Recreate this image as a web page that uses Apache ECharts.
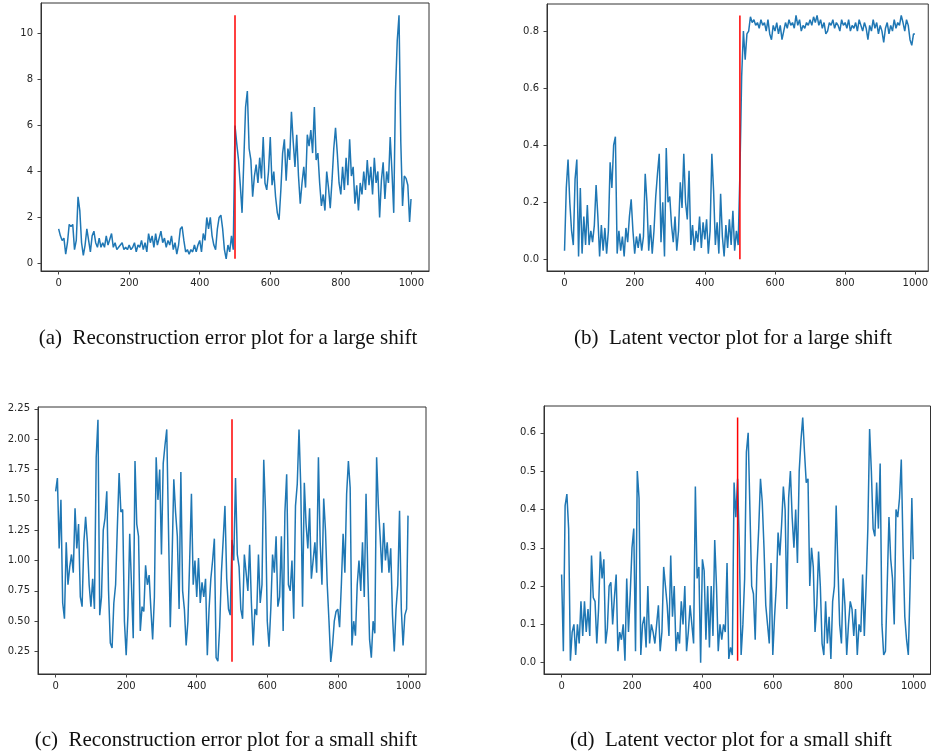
<!DOCTYPE html>
<html><head><meta charset="utf-8">
<script src="https://cdn.jsdelivr.net/npm/echarts@6/dist/echarts.min.js"></script>
<style>html,body{margin:0;padding:0;background:#fff;}#c{width:931px;height:755px;}</style>
</head><body><div id="c"></div>
<script>
// sample spacing of the series (x = index * STEP, last point at 999)
const STEP = 5;
const LAST_X = 999;

// (a) reconstruction error, large shift
const errLarge = [
1.5,1.2,1.0,1.1,0.4,0.9,1.7,1.6,1.7,0.6,
1.0,2.9,2.3,0.9,0.35,0.8,1.5,1.0,0.5,1.2,
1.4,0.9,0.7,1.1,0.7,0.9,0.7,1.2,0.8,0.8,
1.3,0.7,0.9,0.6,0.7,0.8,0.9,0.6,0.7,0.6,
0.8,0.6,0.7,0.9,0.5,0.8,0.7,1.0,0.6,0.9,
0.5,1.3,0.9,1.2,0.7,1.3,0.8,1.1,1.4,0.9,
1.1,0.7,1.0,0.8,1.2,0.6,0.9,0.4,0.8,1.5,
1.6,1.0,0.5,0.6,0.4,0.6,0.5,0.8,0.5,0.8,
1.0,0.5,1.3,1.0,2.0,1.5,2.0,1.2,0.8,0.6,
1.5,2.0,2.1,1.5,0.6,0.2,0.8,0.5,1.2,0.6,
6.0,5.2,4.5,3.4,2.2,4.5,6.8,7.5,5.0,4.5,
2.9,3.8,4.3,3.5,4.6,3.7,5.5,3.5,3.2,4.0,
5.5,3.4,4.0,2.9,2.2,1.9,3.2,4.8,5.4,3.6,
5.0,4.5,6.6,5.3,4.2,5.6,3.8,2.6,3.5,4.2,
3.3,5.6,5.1,5.8,4.8,6.8,4.5,4.8,3.5,2.5,
3.0,2.3,4.0,3.3,2.4,3.6,5.0,5.9,4.8,3.5,
3.0,4.2,3.2,4.6,3.4,5.4,3.8,4.2,2.6,3.4,
2.3,3.5,3.0,4.0,3.2,4.5,3.4,4.2,3.0,4.6,
3.5,4.0,2.0,3.6,4.4,2.8,4.0,3.5,5.5,4.0,
2.2,7.5,9.7,10.8,5.3,2.5,3.8,3.7,3.4,1.8,
2.8];

// (b) latent vector, large shift
const latLarge = [
0.03,0.25,0.35,0.2,0.1,0.05,0.28,0.35,0.01,0.25,
0.02,0.15,0.05,0.19,0.05,0.1,0.06,0.12,0.26,0.15,
0.01,0.12,0.03,0.11,0.02,0.1,0.34,0.25,0.4,0.43,
0.02,0.1,0.03,0.08,0.01,0.11,0.06,0.15,0.21,0.1,
0.02,0.08,0.04,0.09,0.03,0.08,0.3,0.2,0.03,0.12,
0.02,0.1,0.22,0.3,0.37,0.06,0.2,0.01,0.39,0.2,
0.22,0.12,0.06,0.15,0.03,0.1,0.27,0.18,0.37,0.2,
0.14,0.31,0.05,0.12,0.03,0.1,0.06,0.15,0.04,0.13,
0.07,0.14,0.02,0.1,0.37,0.24,0.05,0.13,0.02,0.23,
0.08,0.01,0.12,0.04,0.14,0.05,0.17,0.03,0.1,0.05,
0.3,0.64,0.8,0.7,0.79,0.8,0.85,0.83,0.84,0.82,
0.83,0.81,0.84,0.82,0.83,0.8,0.84,0.79,0.77,0.82,
0.8,0.83,0.79,0.82,0.77,0.8,0.83,0.81,0.84,0.82,
0.83,0.81,0.855,0.82,0.84,0.8,0.82,0.81,0.83,0.82,
0.84,0.82,0.85,0.83,0.855,0.82,0.84,0.81,0.83,0.79,
0.8,0.83,0.82,0.84,0.81,0.83,0.82,0.8,0.84,0.82,
0.83,0.81,0.84,0.8,0.82,0.81,0.83,0.8,0.84,0.82,
0.8,0.83,0.81,0.77,0.82,0.8,0.84,0.81,0.83,0.79,
0.82,0.8,0.76,0.81,0.83,0.79,0.82,0.8,0.84,0.81,
0.83,0.82,0.855,0.83,0.8,0.84,0.82,0.77,0.75,0.79,
0.79];

// (c) reconstruction error, small shift
const errSmall = [
1.57,1.68,1.1,1.5,0.65,0.52,1.15,0.8,0.95,1.05,
0.9,1.43,1.1,1.3,0.7,0.62,1.15,1.36,1.15,0.8,
0.62,0.85,0.6,1.85,2.16,0.55,0.7,1.25,1.35,1.57,
0.75,0.32,0.28,0.65,0.8,1.28,1.72,1.4,1.42,0.5,
0.22,0.55,1.22,0.8,0.36,1.82,1.3,1.2,0.42,0.62,
0.58,0.96,0.8,0.88,0.6,0.35,0.7,1.85,1.5,1.75,
1.05,1.8,1.95,2.08,1.25,0.45,1.0,1.67,1.4,1.2,
0.6,1.73,0.75,0.6,0.3,0.5,1.0,1.55,0.8,1.0,
0.7,1.02,0.65,0.82,0.7,0.85,0.22,0.6,0.85,1.0,
1.18,0.2,0.17,0.45,0.9,1.17,1.45,0.85,0.6,0.55,
1.17,1.0,1.68,1.05,0.95,0.6,0.52,1.05,0.9,0.75,
1.13,0.65,0.3,0.6,0.55,1.05,0.65,0.8,1.83,1.4,
0.5,0.29,0.6,1.05,0.9,1.2,0.62,0.7,1.2,0.42,
1.4,1.71,0.8,0.75,1.0,0.52,1.45,1.63,2.08,1.6,
0.62,1.64,1.3,1.1,1.43,0.85,1.0,1.15,0.9,1.85,
1.15,0.8,1.51,1.25,0.8,0.5,0.165,0.3,0.5,0.58,
0.6,0.45,0.8,1.22,0.9,1.55,1.82,1.6,0.3,0.5,
0.38,0.8,1.0,0.75,1.15,0.7,1.55,0.9,0.35,0.2,
0.5,0.4,1.85,1.45,1.2,0.9,1.31,1.0,1.15,0.9,
1.1,0.55,0.25,0.6,0.8,1.41,0.6,0.3,0.55,0.6,
1.37];

// (d) latent vector, small shift
const latSmall = [
0.23,0.03,0.41,0.44,0.35,0.005,0.08,0.1,0.02,0.1,
0.05,0.16,0.07,0.16,0.08,0.14,0.07,0.28,0.17,0.16,
0.05,0.14,0.29,0.22,0.27,0.05,0.09,0.2,0.21,0.1,
0.17,0.23,0.03,0.08,0.06,0.1,0.005,0.22,0.08,0.18,
0.3,0.35,0.03,0.5,0.43,0.02,0.1,0.12,0.04,0.2,
0.05,0.1,0.08,0.05,0.1,0.15,0.03,0.08,0.25,0.2,
0.15,0.07,0.28,0.12,0.2,0.03,0.08,0.05,0.16,0.1,
0.2,0.03,0.08,0.15,0.1,0.05,0.46,0.22,0.25,0.0,
0.27,0.24,0.06,0.2,0.04,0.2,0.07,0.32,0.2,0.03,
0.1,0.06,0.1,0.08,0.26,0.01,0.04,0.02,0.47,0.38,
0.48,0.3,0.02,0.1,0.22,0.55,0.6,0.4,0.2,0.18,
0.06,0.25,0.35,0.48,0.42,0.3,0.15,0.1,0.05,0.26,
0.02,0.12,0.2,0.34,0.28,0.36,0.46,0.4,0.14,0.43,
0.5,0.38,0.3,0.4,0.26,0.5,0.58,0.64,0.55,0.47,
0.48,0.2,0.3,0.25,0.08,0.15,0.29,0.2,0.05,0.02,
0.16,0.05,0.12,0.01,0.16,0.2,0.41,0.25,0.1,0.05,
0.22,0.15,0.02,0.1,0.16,0.14,0.07,0.14,0.02,0.1,
0.08,0.23,0.07,0.2,0.35,0.61,0.5,0.35,0.33,0.47,
0.35,0.52,0.1,0.02,0.03,0.2,0.38,0.27,0.22,0.1,
0.4,0.38,0.43,0.53,0.3,0.12,0.06,0.02,0.2,0.43,
0.27];

// change point marker (red vertical line): x and y extent
const changeX = 500;
const redA = [0.2, 10.8];
const redB = [0.0, 0.855];
const redC = [0.165, 2.165];
const redD = [0.005, 0.64];

// tick labels
const xTicks = [0, 200, 400, 600, 800, 1000];
const yTicksA = [0, 2, 4, 6, 8, 10];
const yTicksB = [0.0, 0.2, 0.4, 0.6, 0.8];
const yTicksC = [0.25, 0.50, 0.75, 1.00, 1.25, 1.50, 1.75, 2.00, 2.25];
const yTicksD = [0.0, 0.1, 0.2, 0.3, 0.4, 0.5, 0.6];

const captions = [
  '(a)  Reconstruction error plot for a large shift',
  '(b)  Latent vector plot for a large shift',
  '(c)  Reconstruction error plot for a small shift',
  '(d)  Latent vector plot for a small shift'
];

const panels = [
  {grid:{left:41, top:3, width:388, height:268}, x:[-50,1050], y:[-0.33,11.33], ticks:yTicksA, dec:0, vals:errLarge, red:redA, cap:[228,338]},
  {grid:{left:547, top:4, width:383.5, height:267}, x:[-50,1037], y:[-0.041,0.895], ticks:yTicksB, dec:1, vals:latLarge, red:redB, cap:[733,338]},
  {grid:{left:38, top:407, width:388, height:267}, x:[-50,1050], y:[0.065,2.265], ticks:yTicksC, dec:2, vals:errSmall, red:redC, cap:[226,740]},
  {grid:{left:544, top:406, width:386.5, height:268}, x:[-50,1048], y:[-0.0295,0.670], ticks:yTicksD, dec:1, vals:latSmall, red:redD, cap:[731,740]}
];

const labelStyle = {fontFamily:'DejaVu Sans', fontSize:10, color:'#262626'};
const option = {animation:false, backgroundColor:'#fff', grid:[], xAxis:[], yAxis:[], series:[], graphic:[]};

panels.forEach((p, i) => {
  option.grid.push(Object.assign({show:true, borderColor:'#333', borderWidth:1, backgroundColor:'#fff', containLabel:false}, p.grid));
  option.xAxis.push({
    type:'value', gridIndex:i, min:p.x[0], max:p.x[1],
    axisLine:{show:true, onZero:false, lineStyle:{color:'#333', width:1}},
    axisTick:{show:true, length:3.5, customValues:xTicks, lineStyle:{color:'#444'}},
    axisLabel:Object.assign({customValues:xTicks, margin:7, formatter:v => String(Math.round(v))}, labelStyle),
    splitLine:{show:false}
  });
  option.yAxis.push({
    type:'value', gridIndex:i, min:p.y[0], max:p.y[1],
    axisLine:{show:true, onZero:false, lineStyle:{color:'#333', width:1}},
    axisTick:{show:true, length:3.5, customValues:p.ticks, lineStyle:{color:'#444'}},
    axisLabel:Object.assign({customValues:p.ticks, margin:8, formatter:v => Number(v).toFixed(p.dec)}, labelStyle),
    splitLine:{show:false}
  });
  option.series.push({
    type:'line', xAxisIndex:i, yAxisIndex:i, showSymbol:false, symbol:'none',
    lineStyle:{color:'#1f77b4', width:1.5}, z:2,
    data:p.vals.map((v, k) => [Math.min(k * STEP, LAST_X), v])
  });
  option.series.push({
    type:'line', xAxisIndex:i, yAxisIndex:i, showSymbol:false, symbol:'none',
    lineStyle:{color:'#ff0000', width:1.5}, z:3,
    data:[[changeX, p.red[0]], [changeX, p.red[1]]]
  });
  option.graphic.push({
    type:'text', x:p.cap[0], y:p.cap[1],
    style:{text:captions[i], font:'21px "Liberation Serif", "Times New Roman", serif', fill:'#111', align:'center', verticalAlign:'middle'}
  });
});

const chart = echarts.init(document.getElementById('c'), null, {renderer:'canvas'});
chart.setOption(option);
</script>
</body></html>
